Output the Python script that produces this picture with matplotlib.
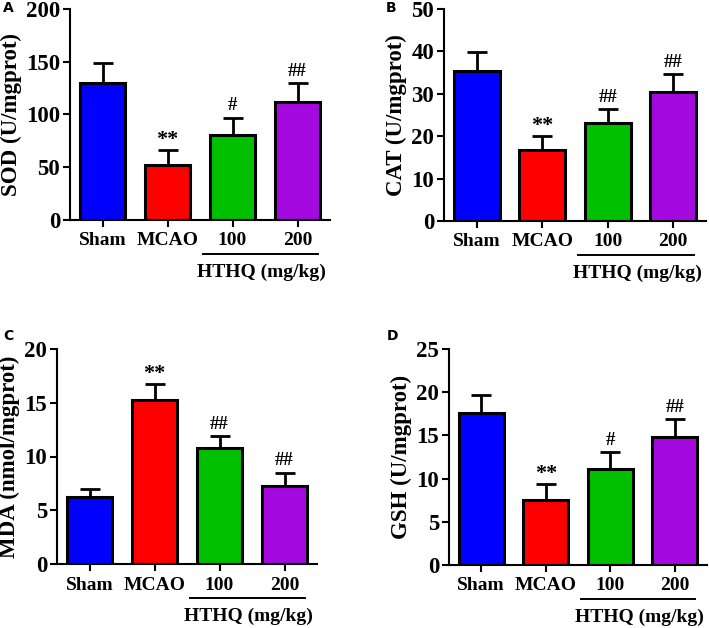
import numpy as np
import matplotlib
matplotlib.use("Agg")
import matplotlib.pyplot as plt
import matplotlib.transforms as mtransforms

plt.rcParams["font.family"] = ["Liberation Serif", "DejaVu Serif"]
plt.rcParams["font.weight"] = "bold"

# ── Data ───────────────────────────────────────────────────
groups = ["Sham", "MCAO", "100", "200"]
colors = ["#0000FF", "#FF0000", "#00C000", "#A40AE0"]

sod_mean = [130, 52, 81, 112]
sod_sd   = [19, 14, 16, 18]
sod_sig  = ["", "**", "#", "##"]

cat_mean = [35.3, 16.8, 23.0, 30.5]
cat_sd   = [4.5, 3.2, 3.3, 4.2]
cat_sig  = ["", "**", "##", "##"]

mda_mean = [6.2, 15.3, 10.8, 7.3]
mda_sd   = [0.8, 1.4, 1.1, 1.2]
mda_sig  = ["", "**", "##", "##"]

gsh_mean = [17.6, 7.5, 11.1, 14.8]
gsh_sd   = [2.1, 1.9, 2.0, 2.1]
gsh_sig  = ["", "**", "#", "##"]

panels = [
    ("A", "SOD (U/mgprot)",       sod_mean, sod_sd, sod_sig, 200, 50),
    ("B", "CAT (U/mgprot)",       cat_mean, cat_sd, cat_sig, 50, 10),
    ("C", "MDA (nmol/mgprot)",    mda_mean, mda_sd, mda_sig, 20, 5),
    ("D", "GSH (U/mgprot)",       gsh_mean, gsh_sd, gsh_sig, 25, 5),
]

# axes boxes in pixels: left, top, right, bottom
W, H = 709, 628
boxes = [
    (70, 9, 330, 220),
    (444, 9, 706, 221),
    (57, 349, 317, 564),
    (449, 349, 707, 565),
]
letter_pos = [(3, 8), (386, 8), (3, 336), (387, 336)]

fig = plt.figure(figsize=(W / 100, H / 100), dpi=100)

for (letter, ylabel, mean, sd, sig, ymax, ystep), (l, t, r, b), (lx, ly) in zip(panels, boxes, letter_pos):
    ax = fig.add_axes([l / W, 1 - b / H, (r - l) / W, (b - t) / H])
    x = np.arange(len(groups))
    ax.bar(x, mean, width=0.7, color=colors, edgecolor="black", linewidth=2.2, zorder=2)
    ax.errorbar(x, mean, yerr=[np.zeros(len(sd)), sd], fmt="none", ecolor="black",
                elinewidth=2.0, capsize=7.5, capthick=2.0, zorder=1)
    for xi, m, s, lab in zip(x, mean, sd, sig):
        if lab == "**":
            ax.text(xi, m + s, lab, ha="center", va="bottom",
                    fontsize=16, fontweight="bold")
        elif lab:
            ax.text(xi, m + s + ymax * 0.015, lab, ha="center", va="bottom",
                    fontsize=13.5, fontweight="bold")

    ax.set_xlim(-0.5, 3.5)
    ax.set_ylim(0, ymax)
    ax.set_yticks(np.arange(0, ymax + 0.1, ystep))
    ax.set_xticks(x)
    ax.set_xticklabels(groups, fontsize=14, fontweight="bold")
    ax.tick_params(axis="y", labelsize=16.5, width=1.5, length=5, pad=2)
    ax.tick_params(axis="x", width=1.5, length=5, pad=4)
    for lbl in ax.get_yticklabels():
        lbl.set_fontweight("bold")
    ax.set_ylabel(ylabel, fontsize=16.5, fontweight="bold", labelpad=3)
    for sp in ["top", "right"]:
        ax.spines[sp].set_visible(False)
    for sp in ["left", "bottom"]:
        ax.spines[sp].set_linewidth(1.5)

    # dose bracket under 100 / 200 (fixed pixel offsets below the x axis)
    hpx = b - t
    trans = mtransforms.blended_transform_factory(ax.transData, ax.transAxes)
    ax.plot([1.55, 3.32], [-34 / hpx, -34 / hpx], color="black", linewidth=1.4,
            transform=trans, clip_on=False)
    ax.text(2.45, -52 / hpx, "HTHQ (mg/kg)", transform=trans, ha="center", va="center",
            fontsize=14, fontweight="bold")

    fig.text(lx / W, 1 - ly / H, letter, family="DejaVu Sans", fontsize=10,
             fontweight="bold", ha="left", va="center")

fig.savefig("out.png", dpi=100)
